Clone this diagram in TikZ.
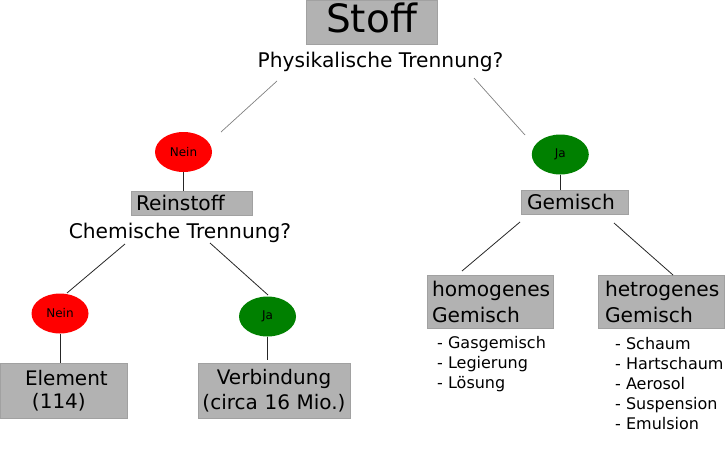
\documentclass[tikz,border=0pt]{standalone}
\usepackage{fontspec}
\setmainfont{DejaVu Sans}
\usetikzlibrary{shapes.geometric}

\begin{document}
\begin{tikzpicture}[x=1pt, y=-1pt,
    box/.style={draw=black!37, fill=black!30, line width=1pt, inner ysep=0pt},
    big/.style={font=\fontsize{20.2}{26}\selectfont},
    nein/.style={ellipse, fill=red, minimum width=57pt, minimum height=40pt,
      inner sep=0pt, font=\fontsize{12}{14}\selectfont},
    ja/.style={nein, fill=green!50!black},
    list/.style={anchor=base west, inner sep=0pt, align=left,
      font=\fontsize{16}{20}\selectfont},
    conn/.style={black!85, line width=0.8pt},
    thin conn/.style={black!50, line width=0.7pt}]
  \useasboundingbox (0,0) rectangle (725,450);

  % top
  \node[box, minimum width=131pt, minimum height=44pt, text depth=8pt,
    font=\fontsize{39}{42}\selectfont] (stoff) at (371.5,22) {Stoff};
  \node[big, anchor=base, inner sep=0pt] (physik) at (380.5,67) {Physikalische Trennung?};

  % left branch
  \node[nein] (nein1) at (183.5,152) {Nein};
  \node[box, big, text width=111pt, inner xsep=5pt, minimum height=24pt, align=left]
    (reinstoff) at (191.5,203) {Reinstoff};
  \node[big, anchor=base, inner sep=0pt] (chemie) at (180,238) {Chemische Trennung?};
  \node[nein] (nein2) at (60,313.5) {Nein};
  \node[ja] (ja2) at (267.5,316.5) {Ja};
  \node[box, text width=127pt, inner xsep=0pt, minimum height=55pt, align=left,
    font=\fontsize{20}{23}\selectfont]
    (element) at (63.5,390.5) {\hspace*{25pt}Element\\\hspace*{32pt}(114)};
  \node[box, text width=152pt, inner xsep=0pt, minimum height=55pt, align=center,
    font=\fontsize{20}{25}\selectfont]
    (verbindung) at (274,390.5) {Verbindung\\(circa 16 Mio.)};

  % right branch
  \node[ja] (ja1) at (560.3,154.5) {Ja};
  \node[box, big, text width=95pt, inner xsep=6pt, minimum height=24pt, align=left]
    (gemisch) at (574.5,202) {Gemisch};
  \node[box, big, text width=116pt, inner xsep=5pt, minimum height=53pt, align=left]
    (homogen) at (490,301.5) {homogenes\\Gemisch};
  \node[box, big, text width=112pt, inner xsep=7pt, minimum height=53pt, align=left]
    (hetrogen) at (661,301.5) {hetrogenes\\Gemisch};
  % base anchor sits on the last line
  \node[list] (homliste) at (437,388) {- Gasgemisch\\- Legierung\\- Lösung};
  \node[list] (hetliste) at (615,429)
    {- Schaum\\- Hartschaum\\- Aerosol\\- Suspension\\- Emulsion};

  % line ends
  \coordinate (pl1) at (277,81);  \coordinate (pl2) at (221,132);
  \coordinate (pr1) at (474,78);  \coordinate (pr2) at (525,135);
  \coordinate (cl1) at (125,244); \coordinate (cl2) at (67,293);
  \coordinate (cr1) at (210,243); \coordinate (cr2) at (268,295);
  \coordinate (gl1) at (520,222); \coordinate (gl2) at (462,271);
  \coordinate (gr1) at (614,223); \coordinate (gr2) at (673,275);

  \draw[thin conn] (pl1) -- (pl2);
  \draw[thin conn] (pr1) -- (pr2);
  \draw[conn] (cl1) -- (cl2);
  \draw[conn] (cr1) -- (cr2);
  \draw[conn] (gl1) -- (gl2);
  \draw[conn] (gr1) -- (gr2);
  \draw[conn] (nein1.south) -- (nein1.south |- reinstoff.north);
  \draw[conn] (ja1.south) -- (ja1.south |- gemisch.north);
  \draw[conn] (nein2.south) -- (nein2.south |- element.north);
  \draw[conn, shorten >=3pt] (ja2.south) -- (ja2.south |- verbindung.north);
\end{tikzpicture}
\end{document}
